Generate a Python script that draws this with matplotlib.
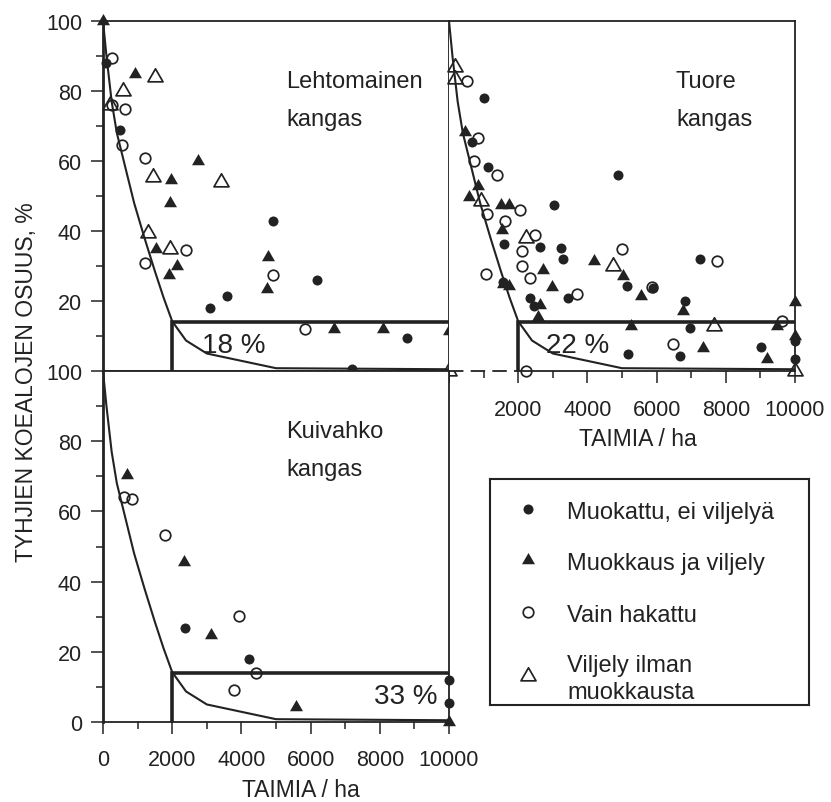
#!/usr/bin/env python3
# -*- coding: utf-8 -*-
#------------------------------------------------------------------------------
# Tyhjien koealojen osuus vs. taimimaara, kolme kasvupaikkatyyppia
#------------------------------------------------------------------------------
import numpy as np
import matplotlib
matplotlib.use('Agg')
import matplotlib.pyplot as plt
from matplotlib.path import Path
from matplotlib.ticker import FixedLocator

plt.rcParams['font.family'] = ['Liberation Sans', 'DejaVu Sans']

#------------------------------------------------------------------------------
# DATA
#------------------------------------------------------------------------------

# fitted curve (same in all panels)
curve_x = [0, 100, 250, 400, 600, 900, 1200, 1500, 1750, 2000, 2400, 3000, 5000, 10000]
curve_y = [100, 90, 77, 68, 60, 48, 38, 28.5, 21, 14.2, 8.7, 5, 0.8, 0.5]

# acceptance limit: 2000 seedlings/ha, 14 % empty plots
limit_x = 2000
limit_y = 14

# Lehtomainen kangas
leh_muok_x = [100, 490, 3100, 3580, 4900, 6180, 8800, 7200]
leh_muok_y = [88, 69, 18, 21.5, 43, 26, 9.5, 0.5]
leh_vilj_x = [0, 925, 2750, 1960, 1940, 1520, 2150, 1910, 4780, 4730, 6680, 8100, 10000]
leh_vilj_y = [100, 85, 60, 54.5, 48, 35, 30, 27.5, 32.5, 23.5, 12, 12, 11.5]
leh_hak_x = [250, 250, 640, 540, 1210, 1210, 2400, 4900, 5840]
leh_hak_y = [89.5, 76, 75, 64.5, 61, 31, 34.5, 27.5, 12]
leh_ilm_x = [1500, 590, 200, 1450, 3400, 1310, 1940, 10000]
leh_ilm_y = [84, 80, 76, 55.5, 54, 39.5, 35, 0]

# Tuore kangas
tuo_muok_x = [1010, 670, 1140, 4890, 3040, 1600, 2630, 3230, 3300, 3430, 2340, 2450,
              5140, 5900, 7250, 6820, 6965, 5180, 6680, 9010, 10000, 10000, 1570]
tuo_muok_y = [78, 65.5, 58.3, 56, 47.5, 36.3, 35.3, 35.2, 32, 21, 21, 18.5,
              24.2, 23.7, 32, 20, 12.4, 5, 4.3, 7, 8.5, 3.5, 25.5]
tuo_vilj_x = [460, 850, 580, 1500, 1730, 1540, 2730, 2990, 1570, 1730, 4190, 5040,
              5550, 2630, 2580, 5250, 6750, 7350, 9200, 9490, 10000, 10000]
tuo_vilj_y = [68.3, 53, 49.7, 47.3, 47.3, 40.3, 29, 24, 24.8, 24.4, 31.5, 27.2,
              21.5, 19, 15.3, 13, 17.2, 6.7, 3.3, 12.9, 19.6, 10]
tuo_hak_x = [530, 850, 730, 1400, 1090, 2050, 1620, 2490, 2120, 2120, 2340, 1060,
             4990, 3690, 5857, 7740, 6480, 9610, 2230]
tuo_hak_y = [83, 66.6, 60, 56, 45, 46, 43, 39, 34.4, 30, 26.7, 27.7,
             34.8, 22, 23.9, 31.5, 7.8, 14.3, 0]
tuo_ilm_x = [170, 170, 925, 2230, 4730, 7660, 10000]
tuo_ilm_y = [87, 83.5, 48.5, 38, 30, 13, 0]

# Kuivahko kangas
kui_muok_x = [2380, 4210, 10000, 10000]
kui_muok_y = [26.8, 18, 12, 5.4]
kui_vilj_x = [700, 2330, 3130, 5570, 10000]
kui_vilj_y = [70.4, 45.6, 24.7, 4.2, 0]
kui_hak_x = [600, 845, 1780, 3940, 4420, 3800]
kui_hak_y = [64.2, 63.4, 53.4, 30.2, 14, 9.2]
kui_ilm_x = []
kui_ilm_y = []

panel_names = ['Lehtomainen\nkangas', 'Tuore\nkangas', 'Kuivahko\nkangas']
share_labels = ['18 %', '22 %', '33 %']
legend_labels = ['Muokattu, ei viljelyä', 'Muokkaus ja viljely', 'Vain hakattu',
                 'Viljely ilman\nmuokkausta']
xlabel = 'TAIMIA / ha'
ylabel = 'TYHJIEN KOEALOJEN OSUUS, %'

#------------------------------------------------------------------------------
# SETTINGS
#------------------------------------------------------------------------------

W, H = 831, 803
ink = '#222222'
# equilateral triangle marker (closed outline)
tri = Path([(-1, -0.577), (1, -0.577), (0, 1.155), (-1, -0.577)],
           [Path.MOVETO, Path.LINETO, Path.LINETO, Path.CLOSEPOLY])

styles = [
    dict(marker='o', ms=7.2, mfc=ink, mec=ink, mew=0),
    dict(marker=tri, ms=10.8, mfc=ink, mec=ink, mew=0),
    dict(marker='o', ms=7.6, mfc='none', mec=ink, mew=1.25),
    dict(marker=tri, ms=12.5, mfc='none', mec=ink, mew=1.25),
]

def box(left, top, width, height):
    return [left / W, 1 - (top + height) / H, width / W, height / H]

def panel(ax, series, name, share, share_x, share_ha, name_x):
    ax.set_xlim(0, 10000)
    ax.set_ylim(0, 100)
    ax.plot(curve_x, curve_y, color=ink, lw=1.5, zorder=2)
    ax.plot([limit_x, limit_x, 10000], [0, limit_y, limit_y], color=ink, lw=2.6,
            solid_joinstyle='miter', solid_capstyle='butt', zorder=2)
    for (xs, ys), st in zip(series, styles):
        if len(xs):
            ax.plot(xs, ys, ls='none', clip_on=False, zorder=3, **st)
    ax.text(name_x, 86, name, fontsize=17, va='top', color=ink, linespacing=1.92)
    ax.text(share_x, 5.4, share, fontsize=20, va='baseline', ha=share_ha, color=ink)
    for sp in ax.spines.values():
        sp.set_linewidth(1.3)
        sp.set_color(ink)
    ax.tick_params(which='major', length=8.6, width=1.1, color=ink, labelcolor=ink,
                   labelsize=15.5)
    ax.tick_params(which='minor', length=5, width=1.1, color=ink)

#------------------------------------------------------------------------------
# PLOT
#------------------------------------------------------------------------------

fig = plt.figure(figsize=(W / 100, H / 100), dpi=100)
ax1 = fig.add_axes(box(103, 22, 346, 350))
ax2 = fig.add_axes(box(449, 22, 346, 350))
ax3 = fig.add_axes(box(103, 372, 346, 351))

panel(ax1, [(leh_muok_x, leh_muok_y), (leh_vilj_x, leh_vilj_y),
            (leh_hak_x, leh_hak_y), (leh_ilm_x, leh_ilm_y)],
      panel_names[0], share_labels[0], 2860, 'left', 5300)
panel(ax2, [(tuo_muok_x, tuo_muok_y), (tuo_vilj_x, tuo_vilj_y),
            (tuo_hak_x, tuo_hak_y), (tuo_ilm_x, tuo_ilm_y)],
      panel_names[1], share_labels[1], 2800, 'left', 6560)
panel(ax3, [(kui_muok_x, kui_muok_y), (kui_vilj_x, kui_vilj_y),
            (kui_hak_x, kui_hak_y), (kui_ilm_x, kui_ilm_y)],
      panel_names[2], share_labels[2], 9655, 'right', 5300)

# top-left: y ticks without 0, no x ticks
ax1.set_xticks([])
ax1.yaxis.set_major_locator(FixedLocator([20, 40, 60, 80, 100]))
ax1.yaxis.set_minor_locator(FixedLocator([10, 30, 50, 70, 90]))
ax1.tick_params(axis='y', pad=6.5)
ax1.spines['left'].set_linewidth(2.0)

# top-right: x ticks, 0 unlabelled, no y ticks
ax2.set_yticks([])
ax2.xaxis.set_major_locator(FixedLocator(np.arange(0, 10001, 2000)))
ax2.xaxis.set_minor_locator(FixedLocator(np.arange(1000, 10000, 2000)))
ax2.set_xticklabels([''] + [str(v) for v in range(2000, 10001, 2000)])
ax2.tick_params(axis='x', pad=11.5)
ax2.spines['left'].set_visible(False)
ax2.spines['bottom'].set_bounds(limit_x, 10000)
ax2.plot([0, limit_x], [0, 0], color=ink, lw=1.3, dashes=(8, 4), clip_on=False)

# bottom-left
ax3.yaxis.set_major_locator(FixedLocator(np.arange(0, 101, 20)))
ax3.yaxis.set_minor_locator(FixedLocator(np.arange(10, 100, 20)))
ax3.xaxis.set_major_locator(FixedLocator(np.arange(0, 10001, 2000)))
ax3.xaxis.set_minor_locator(FixedLocator(np.arange(1000, 10000, 2000)))
ax3.tick_params(axis='y', pad=6.5)
ax3.tick_params(axis='x', pad=10.8)
ax3.spines['left'].set_linewidth(2.0)

# axis titles
fig.text(15 / W, 1 - 562 / H, ylabel, rotation=90, ha='left', va='bottom',
         fontsize=16.5, color=ink)
fig.text(637.5 / W, 1 - 428 / H, xlabel, ha='center', va='top', fontsize=16.5, color=ink)
fig.text(301 / W, 1 - 779 / H, xlabel, ha='center', va='top', fontsize=16.5, color=ink)

# legend box
lg = fig.add_axes(box(490, 480, 319, 226))
lg.set_xlim(0, 319)
lg.set_ylim(226, 0)
lg.set_xticks([])
lg.set_yticks([])
for sp in lg.spines.values():
    sp.set_linewidth(1.5)
    sp.set_color(ink)
row_mid = [30, 81, 133, 197]
row_top = [21.7, 73, 125, 175]
for lab, st, ym, yt in zip(legend_labels, styles, row_mid, row_top):
    lg.plot([38], [ym], ls='none', **st)
    lg.text(77, yt, lab, fontsize=17, va='top', color=ink, linespacing=1.28)

plt.savefig('out.png', dpi=100)
plt.close(fig)
